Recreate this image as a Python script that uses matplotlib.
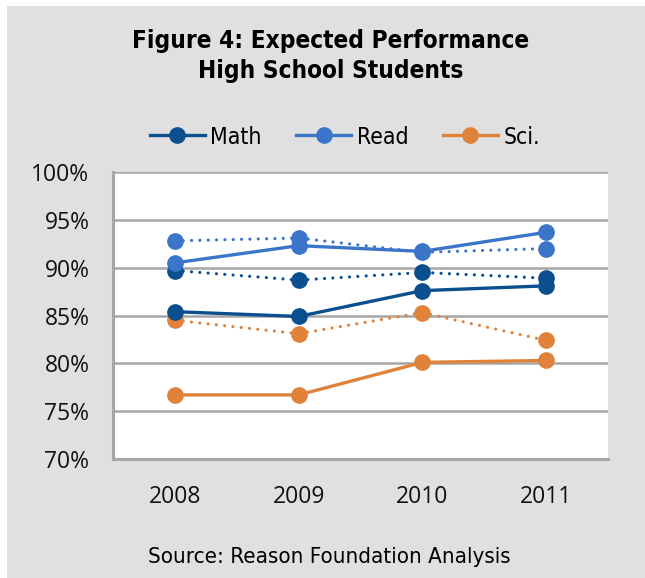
import matplotlib
matplotlib.use("Agg")
import matplotlib.pyplot as plt
from matplotlib.patches import Rectangle
from matplotlib.ticker import FuncFormatter

years = ["2008", "2009", "2010", "2011"]

# solid lines (actual) and dotted lines (expected), in percent
math_actual = [85.4, 84.9, 87.6, 88.1]
math_expected = [89.7, 88.7, 89.5, 88.9]
read_actual = [90.5, 92.3, 91.7, 93.7]
read_expected = [92.8, 93.1, 91.6, 92.0]
sci_actual = [76.7, 76.7, 80.1, 80.3]
sci_expected = [84.5, 83.1, 85.3, 82.4]

math_color = "#0b4f8f"
read_color = "#3b75c9"
sci_color = "#e0823a"
grey_bg = "#e0e0e0"
grid_color = "#a6a6a6"

title_font = ["DejaVu Sans"]
body_font = ["Open Sans", "DejaVu Sans"]

fig = plt.figure(figsize=(6.45, 5.78), dpi=100, facecolor="white")
fig.patches.append(Rectangle((7 / 645, 0), 1, 1 - 6 / 578, transform=fig.transFigure,
                             facecolor=grey_bg, edgecolor="none", zorder=-10))

ax = fig.add_axes([113 / 645, 1 - 459 / 578, 495 / 645, 287 / 578])
ax.set_facecolor("white")

x = range(len(years))
ms = 11
series = [
    (math_actual, math_expected, math_color, "Math"),
    (read_actual, read_expected, read_color, "Read"),
    (sci_actual, sci_expected, sci_color, "Sci."),
]
handles = []
for actual, expected, color, label in series:
    ax.plot(x, expected, color=color, lw=2.3, linestyle=(0, (0.01, 2.6)),
            dash_capstyle="round", marker="o", ms=ms, zorder=3)
    h, = ax.plot(x, actual, color=color, lw=2.4, marker="o", ms=ms,
                 label=label, zorder=4)
    handles.append(h)

ax.set_xlim(-0.5, 3.5)
ax.set_ylim(70, 100)
ax.set_yticks(range(70, 101, 5))
ax.yaxis.set_major_formatter(FuncFormatter(lambda v, p: "%d%%" % v))
ax.set_xticks(list(x))
ax.set_xticklabels(years)
ax.grid(axis="y", color=grid_color, lw=1.8)
ax.set_axisbelow(True)

for s in ["top", "right"]:
    ax.spines[s].set_visible(False)
for s in ["left", "bottom"]:
    ax.spines[s].set_color(grid_color)
    ax.spines[s].set_linewidth(2.2)

ax.tick_params(length=0, labelsize=16.5, colors="#111111")
ax.tick_params(axis="y", pad=17)
ax.tick_params(axis="x", pad=19)
for t in ax.get_xticklabels() + ax.get_yticklabels():
    t.set_family(body_font)

fig.text(0.512, 1 - 56 / 578, "Figure 4: Expected Performance\nHigh School Students",
         ha="center", va="center", fontsize=17.5, fontweight="bold",
         family=title_font, stretch="condensed", linespacing=1.35)

fig.legend(handles=handles, loc="center", bbox_to_anchor=(345 / 645, 1 - 137 / 578),
           ncol=3, frameon=False, handlelength=2.4, columnspacing=1.5,
           handletextpad=0.25, prop={"family": title_font, "size": 16.5, "stretch": "condensed"})

fig.text(0.51, 1 - 557 / 578, "Source: Reason Foundation Analysis", ha="center",
         va="center", fontsize=16, family=title_font, stretch="condensed")

fig.savefig("out.png", dpi=100, facecolor=fig.get_facecolor())
